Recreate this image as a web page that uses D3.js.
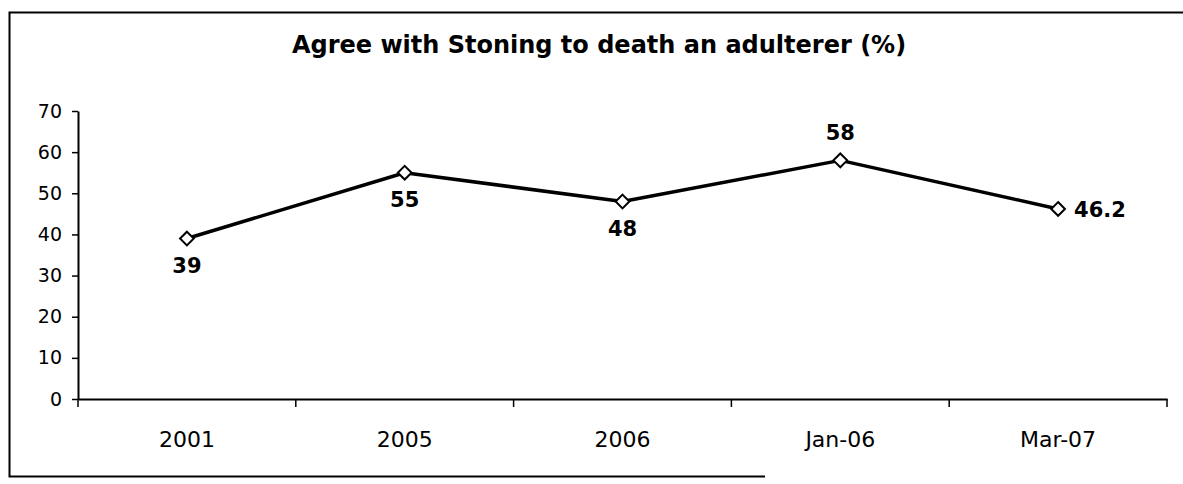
<!DOCTYPE html>
<html>
<head>
<meta charset="utf-8">
<script src="https://cdn.jsdelivr.net/npm/d3@7"></script>
<style>
  html, body { margin: 0; padding: 0; background: #fff; }
  svg { display: block; }
</style>
</head>
<body>
<svg id="chart" width="1183" height="484"></svg>
<script>
// Survey results: share agreeing with stoning an adulterer to death
const categories = ["2001", "2005", "2006", "Jan-06", "Mar-07"];
const values = [39, 55, 48, 58, 46.2];
const valueLabels = ["39", "55", "48", "58", "46.2"];
const labelSides = ["below", "below", "below", "above", "right"];
const yTicks = [0, 10, 20, 30, 40, 50, 60, 70];
const title = "Agree with Stoning to death an adulterer (%)";

const svg = d3.select("#chart");
const font = "DejaVu Sans, Verdana, sans-serif";

// plot area
const plotLeft = 78, plotRight = 1167, plotTop = 111, plotBottom = 399;

const x = d3.scaleBand().domain(categories).range([plotLeft, plotRight]).paddingInner(0).paddingOuter(0);
const y = d3.scaleLinear().domain([0, 70]).range([plotBottom, plotTop]);
const cx = d => x(d) + x.bandwidth() / 2;

// outer frame (top, left and part of bottom edge)
svg.append("path")
  .attr("d", "M1183,12.5 L9.5,12.5 L9.5,476.5 L765,476.5")
  .attr("fill", "none").attr("stroke", "#000").attr("stroke-width", 2);

// title
svg.append("text")
  .attr("x", 599).attr("y", 53)
  .attr("text-anchor", "middle")
  .attr("font-family", font).attr("font-weight", "bold").attr("font-size", 24)
  .text(title);

// y axis
const yAxis = d3.axisLeft(y).tickValues(yTicks).tickSize(6).tickPadding(10).tickSizeOuter(0);
const gy = svg.append("g").attr("transform", `translate(${plotLeft},0)`).call(yAxis);
gy.select(".domain").attr("stroke", "#000").attr("stroke-width", 2);
gy.selectAll(".tick line").attr("stroke", "#000").attr("stroke-width", 1.5);
gy.selectAll(".tick text").attr("font-family", font).attr("font-size", 19).attr("fill", "#000");

// x axis with ticks between categories
const xAxis = d3.axisBottom(x).tickSize(0).tickPadding(32).tickSizeOuter(0);
const gx = svg.append("g").attr("transform", `translate(0,${plotBottom})`).call(xAxis);
gx.select(".domain").attr("stroke", "#000").attr("stroke-width", 2);
gx.selectAll(".tick text").attr("font-family", font).attr("font-size", 22).attr("fill", "#000");

const boundaries = categories.map(c => x(c)).concat([plotRight]);
svg.append("g").selectAll("line").data(boundaries).join("line")
  .attr("x1", d => d).attr("x2", d => d)
  .attr("y1", plotBottom).attr("y2", plotBottom + 8)
  .attr("stroke", "#000").attr("stroke-width", 1.5);

// series line
const pts = categories.map((c, i) => [cx(c), y(values[i])]);
svg.append("path")
  .attr("d", d3.line()(pts))
  .attr("fill", "none").attr("stroke", "#000").attr("stroke-width", 3.5)
  .attr("stroke-linejoin", "round");

// diamond markers
const diamond = d3.symbol().type(d3.symbolDiamond2).size(120);
svg.append("g").selectAll("path").data(pts).join("path")
  .attr("transform", d => `translate(${d[0]},${d[1]})`)
  .attr("d", diamond)
  .attr("fill", "#fff").attr("stroke", "#000").attr("stroke-width", 2);

// value labels
svg.append("g").selectAll("text").data(categories).join("text")
  .attr("x", (c, i) => labelSides[i] === "right" ? cx(c) + 16 : cx(c))
  .attr("y", (c, i) => {
    const py = y(values[i]);
    if (labelSides[i] === "below") return py + 34;
    if (labelSides[i] === "above") return py - 20;
    return py + 8;
  })
  .attr("text-anchor", (c, i) => labelSides[i] === "right" ? "start" : "middle")
  .attr("font-family", font).attr("font-weight", "bold").attr("font-size", 21)
  .attr("fill", "#000")
  .text((c, i) => valueLabels[i]);
</script>
</body>
</html>
